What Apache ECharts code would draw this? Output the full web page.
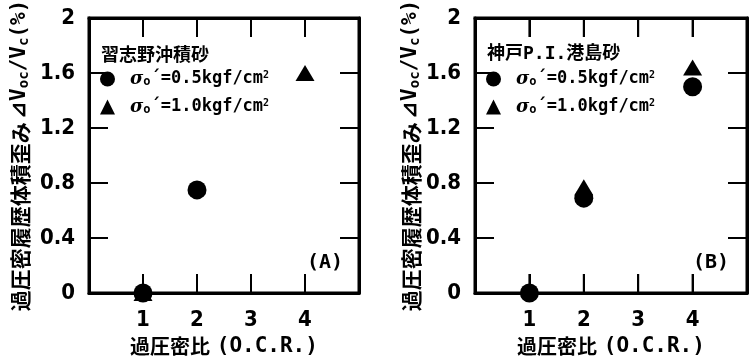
<!DOCTYPE html>
<html>
<head>
<meta charset="utf-8">
<script src="https://cdn.jsdelivr.net/npm/echarts@6/dist/echarts.min.js"></script>
<style>
  html, body { margin: 0; padding: 0; background: #fff; }
  #chart { width: 751px; height: 360px; background: #fff; }
</style>
</head>
<body>
<div id="chart"></div>
<script>
// 過圧密比 (O.C.R.) vs 過圧密履歴体積歪み
var xRange = [0, 5];
var yRange = [0, 2];
var xTicks = [1, 2, 3, 4];          // ticks drawn on bottom / top
var yTicks = [0.4, 0.8, 1.2, 1.6];  // ticks drawn on left / right

// (A) 習志野沖積砂
var aCircle = [[1, 0], [2, 0.75]];      // σo'=0.5kgf/cm2
var aTriangle = [[1, 0], [4, 1.6]];     // σo'=1.0kgf/cm2
// (B) 神戸P.I.港島砂
var bCircle = [[1, 0], [2, 0.69], [4, 1.5]];
var bTriangle = [[2, 0.77], [4, 1.64]];

var nameCircle = 'σo\u00b4=0.5kgf/cm2';
var nameTriangle = 'σo\u00b4=1.0kgf/cm2';

var MONO = '"DejaVu Sans Mono", "Liberation Mono", monospace';
var NUM = '"Liberation Sans Narrow", "DejaVu Sans Condensed", "Liberation Sans", sans-serif';
var JP = '"Noto Sans CJK JP", sans-serif';
var TICK_LEN = 19;

var myChart = echarts.init(document.getElementById('chart'));

function xAxisOf(grid, top) {
  var axis = {
    type: 'value',
    gridIndex: grid,
    position: top ? 'top' : 'bottom',
    min: xRange[0],
    max: xRange[1],
    interval: 1,
    axisLine: { show: true, onZero: false, lineStyle: { color: '#000', width: 3 } },
    axisTick: { show: true, inside: true, length: TICK_LEN, lineStyle: { color: '#000', width: 2 } },
    splitLine: { show: false },
    axisLabel: {
      show: !top,
      showMinLabel: false,
      showMaxLabel: false,
      margin: 16,
      color: '#000',
      fontFamily: NUM,
      fontWeight: 'bold',
      fontSize: 22
    }
  };
  if (!top) {
    axis.name = '{j|過圧密比}  {m|(O.C.R.)}';
    axis.nameLocation = 'middle';
    axis.nameGap = 40;
    axis.nameTextStyle = {
      rich: {
        j: { fontFamily: JP, fontWeight: 'bold', fontSize: 20, color: '#000' },
        m: { fontFamily: MONO, fontWeight: 'bold', fontSize: 21, color: '#000' }
      }
    };
  }
  return axis;
}

function yAxisOf(grid, right, gap) {
  var axis = {
    type: 'value',
    gridIndex: grid,
    position: right ? 'right' : 'left',
    min: yRange[0],
    max: yRange[1],
    interval: 0.4,
    axisLine: { show: true, onZero: false, lineStyle: { color: '#000', width: 3 } },
    axisTick: { show: true, inside: true, length: TICK_LEN, lineStyle: { color: '#000', width: 2 } },
    splitLine: { show: false },
    axisLabel: {
      show: !right,
      margin: 14,
      color: '#000',
      fontFamily: NUM,
      fontWeight: 'bold',
      fontSize: 22
    }
  };
  if (!right) {
    axis.name = '{j|過圧密履歴体積歪み} {m|⊿V}{s|oc}{m|/V}{s|c}{m|(%)}';
    axis.nameLocation = 'middle';
    axis.nameGap = gap;
    axis.nameTextStyle = {
      rich: {
        j: { fontFamily: JP, fontWeight: 'bold', fontSize: 21, color: '#000', lineHeight: 22 },
        m: { fontFamily: MONO, fontWeight: 'bold', fontSize: 21, color: '#000', lineHeight: 22 },
        s: { fontFamily: MONO, fontWeight: 'bold', fontSize: 14, color: '#000', lineHeight: 22, verticalAlign: 'bottom' }
      }
    };
  }
  return axis;
}

var legendRich = {
  g: { fontFamily: 'DejaVu Serif, serif', fontStyle: 'italic', fontWeight: 'bold', fontSize: 18, color: '#000' },
  o: { fontFamily: MONO, fontWeight: 'bold', fontSize: 12, color: '#000', verticalAlign: 'bottom', lineHeight: 18 },
  t: { fontFamily: MONO, fontWeight: 'bold', fontSize: 17, color: '#000' },
  p: { fontFamily: MONO, fontWeight: 'bold', fontSize: 10, color: '#000', verticalAlign: 'top', lineHeight: 18 }
};

function legendFormatter(name) {
  var v = name === nameCircle ? '0.5' : '1.0';
  return '{g|σ}{o|o}{t|\u00b4=' + v + 'kgf/cm}{p|2}';
}

function legendOf(left) {
  return {
    left: left,
    top: 65,
    orient: 'vertical',
    itemWidth: 15,
    itemHeight: 15,
    itemGap: 10,
    selectedMode: false,
    data: [
      { name: nameCircle, icon: 'circle' },
      { name: nameTriangle, icon: 'triangle' }
    ],
    formatter: legendFormatter,
    textStyle: { padding: [0, 0, 0, 10], rich: legendRich }
  };
}

function seriesOf(name, symbol, data, axis) {
  return {
    name: name,
    type: 'scatter',
    xAxisIndex: axis,
    yAxisIndex: axis,
    symbol: symbol,
    symbolSize: symbol === 'circle' ? 19 : [19, 16],
    itemStyle: { color: '#000', opacity: 1 },
    data: data
  };
}

myChart.setOption({
  animation: false,
  grid: [
    { left: 89, top: 18, width: 270, height: 275, outerBoundsMode: 'none' },
    { left: 475, top: 18, width: 272, height: 275, outerBoundsMode: 'none' }
  ],
  title: [
    { text: '習志野沖積砂', left: 96, top: 40, textStyle: { fontFamily: JP, fontWeight: 'bold', fontSize: 18, color: '#000' } },
    { text: '神戸P.I.港島砂', left: 482, top: 40, textStyle: { fontFamily: MONO + ', ' + JP, fontWeight: 'bold', fontSize: 18, color: '#000' } },
    { text: '(A)', right: 403, top: 248, textStyle: { fontFamily: MONO, fontWeight: 'bold', fontSize: 20, color: '#000' } },
    { text: '(B)', right: 17, top: 248, textStyle: { fontFamily: MONO, fontWeight: 'bold', fontSize: 20, color: '#000' } }
  ],
  legend: [legendOf(95), legendOf(481)],
  xAxis: [xAxisOf(0, false), xAxisOf(0, true), xAxisOf(1, false), xAxisOf(1, true)],
  yAxis: [yAxisOf(0, false, 58), yAxisOf(0, true), yAxisOf(1, false, 52), yAxisOf(1, true)],
  series: [
    seriesOf(nameCircle, 'circle', aCircle, 0),
    seriesOf(nameTriangle, 'triangle', aTriangle, 0),
    seriesOf(nameCircle, 'circle', bCircle, 2),
    seriesOf(nameTriangle, 'triangle', bTriangle, 2)
  ]
});

// frame and inward ticks, placed through the grids' own scales
function frameOf(g) {
  var p0 = myChart.convertToPixel({ gridIndex: g }, [xRange[0], yRange[0]]);
  var p1 = myChart.convertToPixel({ gridIndex: g }, [xRange[1], yRange[1]]);
  var left = p0[0], bottom = p0[1], right = p1[0], top = p1[1];
  var line = { stroke: '#000', lineWidth: 2 };
  var els = [{
    type: 'rect', z: 100, silent: true,
    shape: { x: left, y: top, width: right - left, height: bottom - top },
    style: { fill: 'transparent', stroke: '#000', lineWidth: 3 }
  }];
  xTicks.forEach(function (v) {
    var x = myChart.convertToPixel({ gridIndex: g }, [v, yRange[0]])[0];
    els.push({ type: 'line', z: 100, silent: true, shape: { x1: x, y1: bottom, x2: x, y2: bottom - TICK_LEN }, style: line });
    els.push({ type: 'line', z: 100, silent: true, shape: { x1: x, y1: top, x2: x, y2: top + TICK_LEN }, style: line });
  });
  yTicks.forEach(function (v) {
    var y = myChart.convertToPixel({ gridIndex: g }, [xRange[0], v])[1];
    els.push({ type: 'line', z: 100, silent: true, shape: { x1: left, y1: y, x2: left + TICK_LEN, y2: y }, style: line });
    els.push({ type: 'line', z: 100, silent: true, shape: { x1: right, y1: y, x2: right - TICK_LEN, y2: y }, style: line });
  });
  return els;
}

myChart.setOption({ graphic: frameOf(0).concat(frameOf(1)) });

window.addEventListener('resize', function () {
  myChart.resize();
  myChart.setOption({ graphic: frameOf(0).concat(frameOf(1)) }, { replaceMerge: ['graphic'] });
});
</script>
</body>
</html>
